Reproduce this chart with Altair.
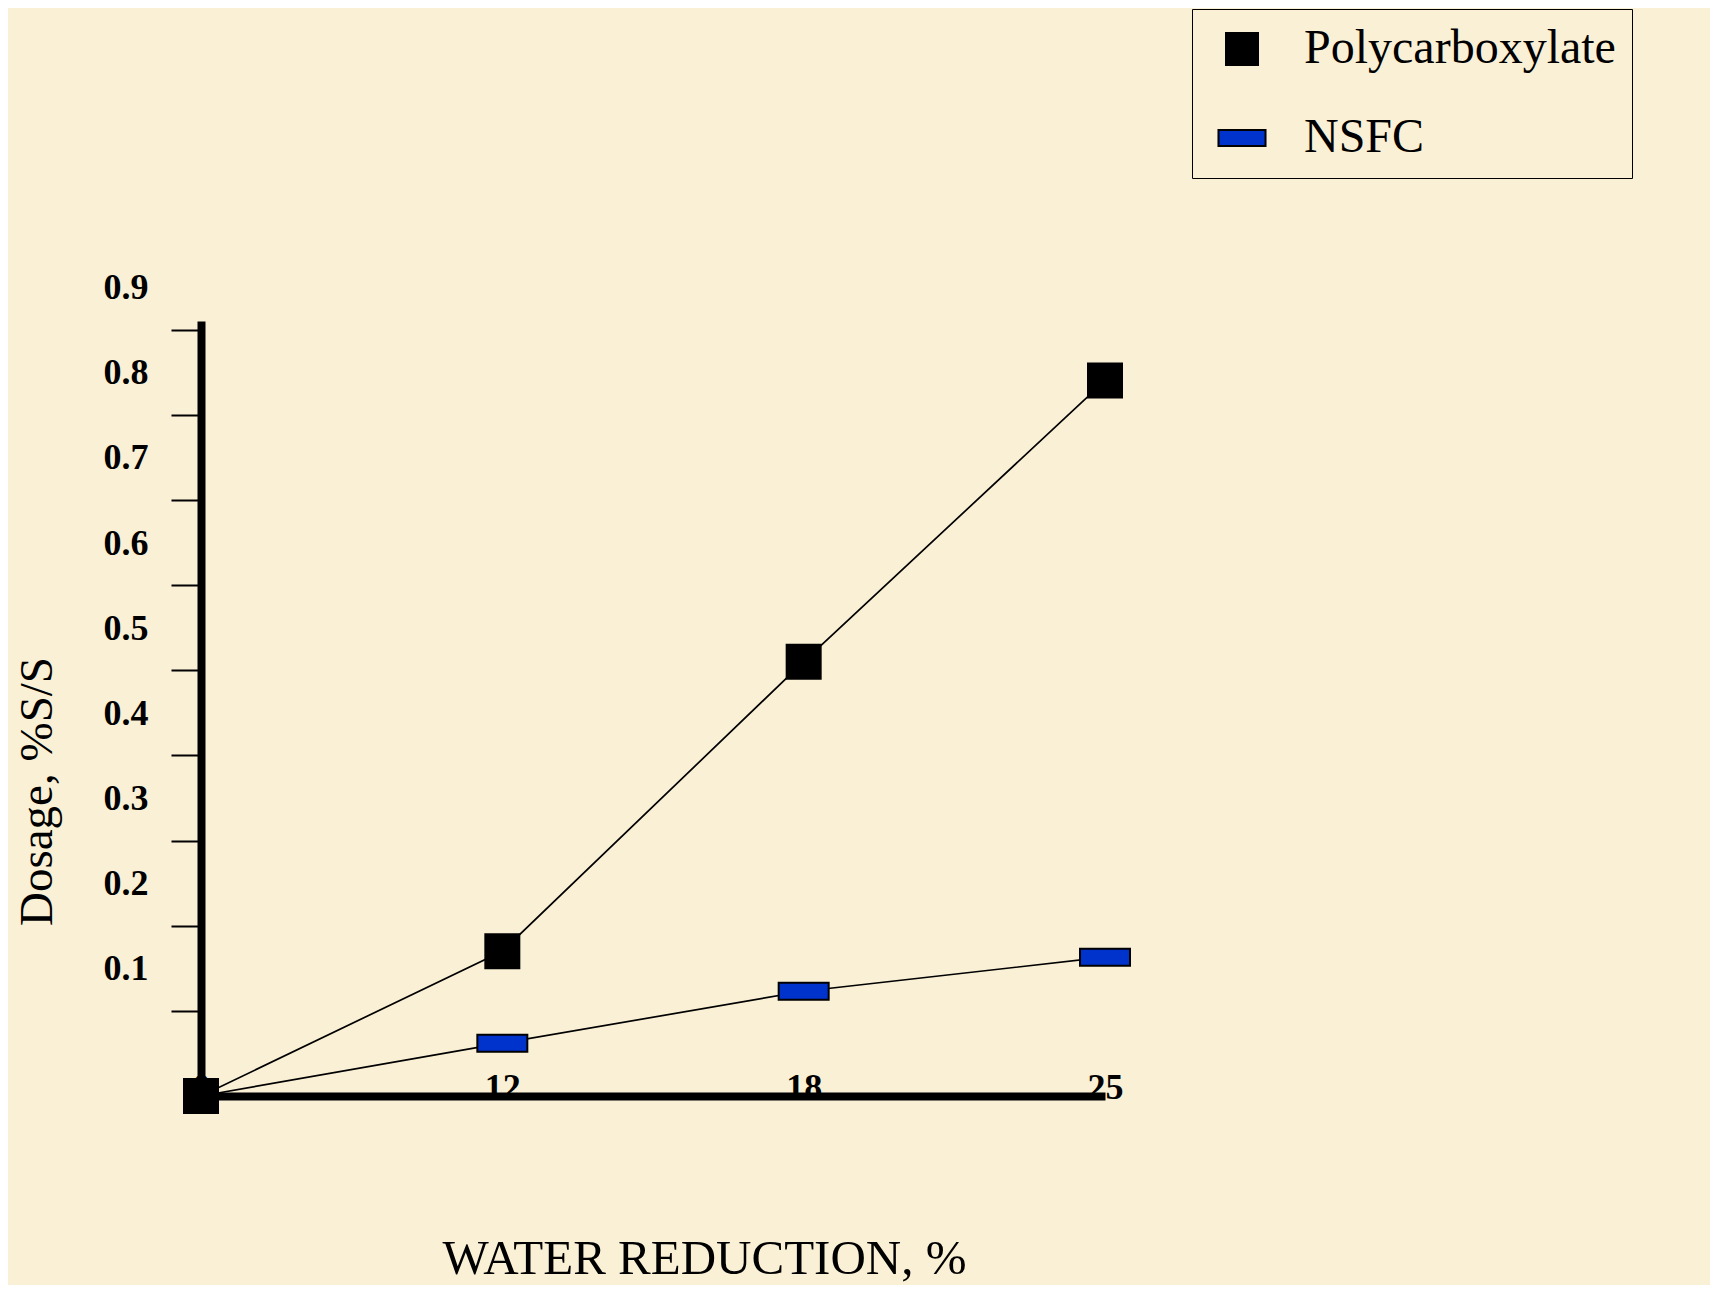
import altair as alt
import pandas as pd

# ---- data ----
water_reduction = [0, 12, 18, 25]
series_names = ["Polycarboxylate", "NSFC"]
poly_dosage = [0, 0.17, 0.51, 0.84]
nsfc_dosage = [0, 0.062, 0.123, 0.163]
y_ticks = [0.1, 0.2, 0.3, 0.4, 0.5, 0.6, 0.7, 0.8, 0.9]

rows = []
for wr, v in zip(water_reduction, poly_dosage):
    rows.append({"wr": wr, "dosage": v, "series": series_names[0]})
for wr, v in zip(water_reduction, nsfc_dosage):
    rows.append({"wr": wr, "dosage": v, "series": series_names[1]})
df = pd.DataFrame(rows)

BG = "#FAF0D6"
SERIF = "Liberation Serif"

square_path = "M-1,-1H1V1H-1Z"
rect_path = "M-1.47,-0.5H1.47V0.5H-1.47Z"

x_enc = alt.X(
    "wr:O",
    sort=water_reduction,
    scale=alt.Scale(type="point", padding=0),
    axis=alt.Axis(
        title="WATER REDUCTION, %",
        labelAngle=0,
        ticks=False,
        labelBaseline="alphabetic",
        labelPadding=2,
        labelFont=SERIF,
        labelFontWeight="bold",
        labelFontSize=36,
        labelColor="black",
        domainColor="black",
        domainWidth=8,
        titleFont=SERIF,
        titleFontWeight="normal",
        titleFontSize=49,
        titleColor="black",
        titleX=503,
        titleY=177,
        titleBaseline="alphabetic",
        titleAlign="center",
    ),
)
y_enc = alt.Y(
    "dosage:Q",
    scale=alt.Scale(domain=[0, 0.91], nice=False, zero=True),
    axis=alt.Axis(
        title="Dosage,  %S/S",
        values=y_ticks,
        format=".1f",
        grid=False,
        tickSize=30,
        tickWidth=2,
        tickColor="black",
        labelPadding=23,
        labelOffset=-42,
        labelFont=SERIF,
        labelFontWeight="bold",
        labelFontSize=36,
        labelColor="black",
        domainColor="black",
        domainWidth=8,
        titleFont=SERIF,
        titleFontWeight="normal",
        titleFontSize=47,
        titleColor="black",
        titleAngle=270,
        titleX=-150,
        titleY=470,
        titleBaseline="alphabetic",
        titleAlign="center",
    ),
)

legend = alt.Legend(
    title=None,
    orient="none",
    legendX=991,
    legendY=-312,
    labelFont=SERIF,
    labelFontSize=48,
    labelColor="black",
    labelOffset=38,
    labelLimit=900,
    symbolSize=1024,
    symbolOffset=10,
    symbolStrokeColor="black",
    symbolStrokeWidth=2,
    rowPadding=41,
    padding=16,
    strokeColor="black",
)

lines = alt.Chart(df).mark_line(color="black", strokeWidth=1.7).encode(
    x=x_enc, y=y_enc, detail="series:N"
)

points = (
    alt.Chart(df)
    .transform_filter("!(datum.series == 'NSFC' && datum.wr == 0)")
    .mark_point(filled=True, size=1156, stroke="black", strokeWidth=2, opacity=1)
    .encode(
        x=x_enc,
        y=y_enc,
        color=alt.Color(
            "series:N",
            scale=alt.Scale(domain=series_names, range=["black", "#0033CC"]),
            sort=series_names,
            legend=legend,
        ),
        shape=alt.Shape(
            "series:N",
            scale=alt.Scale(domain=series_names, range=[square_path, rect_path]),
            sort=series_names,
            legend=legend,
        ),
    )
)

chart = (
    alt.layer(lines, points)
    .properties(
        width=904,
        height=775,
        background=BG,
        autosize=alt.AutoSizeParams(type="none"),
        padding={"left": 193, "top": 313, "right": 605, "bottom": 189},
    )
    .configure_view(stroke=None)
)

chart.save("out.html", embed_options={"renderer": "svg", "actions": False})
